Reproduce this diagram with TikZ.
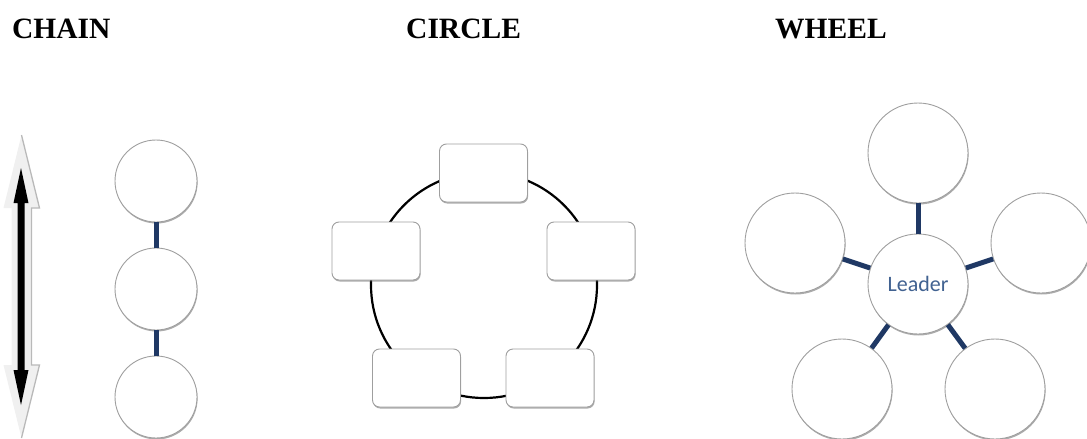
\documentclass[tikz,border=0pt]{standalone}
\usepackage{fontspec}
\setmainfont{Liberation Serif}
\newfontfamily\carlito{Carlito}
\usetikzlibrary{shadows}
\definecolor{navy}{RGB}{31,56,100}
\definecolor{leadertxt}{RGB}{65,98,145}
\definecolor{arrowlight}{RGB}{240,240,240}
\begin{document}
\begin{tikzpicture}[x=1pt,y=-1pt,
  ttl/.style={anchor=base west,inner sep=0pt,font=\fontsize{29.5}{32}\selectfont\bfseries},
  shade3d/.style={drop shadow={shadow xshift=0.6pt,shadow yshift=-1.5pt,opacity=0.5,fill=black!65}},
  member/.style={circle,draw=gray!75,line width=0.9pt,fill=white,inner sep=0pt,shade3d},
  chainmember/.style={member,minimum size=82pt},
  wheelmember/.style={member,minimum size=100pt},
  circbox/.style={rectangle,rounded corners=7pt,draw=gray!75,line width=0.9pt,fill=white,
    minimum width=88pt,minimum height=58pt,inner sep=0pt,shade3d},
  link/.style={draw=navy,line width=5pt},
  ring/.style={draw=black,line width=2.2pt}
]
\useasboundingbox (0,0) rectangle (1087,439);

% titles
\node[ttl] (tchain) at (12,38) {CHAIN};
\node[ttl] (tcircle) at (406,38) {CIRCLE};
\node[ttl] (twheel) at (775,38) {WHEEL};

% chain: double arrow
\fill[arrowlight] (21.5,135) -- (39.5,208) -- (31.5,208) -- (31.5,365) -- (39.5,365)
   -- (21.5,438) -- (3.5,365) -- (11.5,365) -- (11.5,208) -- (3.5,208) -- cycle;
\draw[gray!55,line width=1.3pt] (21.5,135) -- (39.5,208) -- (31.5,208) -- (31.5,365) -- (39.5,365) -- (21.5,438);
\fill[black] (21,168) -- (28.5,203) -- (24.5,203) -- (24.5,370) -- (28.5,370)
   -- (21,405) -- (13.5,370) -- (17.5,370) -- (17.5,203) -- (13.5,203) -- cycle;

% chain circles
\node[chainmember] (c1) at (156,181) {};
\node[chainmember] (c2) at (156,289) {};
\node[chainmember] (c3) at (156,397) {};
\draw[link] (c1) -- (c2);
\draw[link] (c2) -- (c3);

% circle network
\coordinate (ringc) at (484,285);
\draw[ring] (ringc) circle[radius=113pt];
\node[circbox] (b1) at (483.5,173) {};
\node[circbox] (b2) at (376,251) {};
\node[circbox] (b3) at (591,251) {};
\node[circbox] (b4) at (416.5,378) {};
\node[circbox] (b5) at (550,378) {};

% wheel
\node[wheelmember] (w0) at (918,284) {\carlito\fontsize{22}{24}\selectfont\color{leadertxt}Leader};
\node[wheelmember] (w1) at (918,153) {};
\node[wheelmember] (w2) at (795,243) {};
\node[wheelmember] (w3) at (1041,243) {};
\node[wheelmember] (w4) at (842,389) {};
\node[wheelmember] (w5) at (995,389) {};
\foreach \w in {w1,w2,w3,w4,w5}{
  \draw[link] (w0) -- (\w);
}
\end{tikzpicture}
\end{document}
